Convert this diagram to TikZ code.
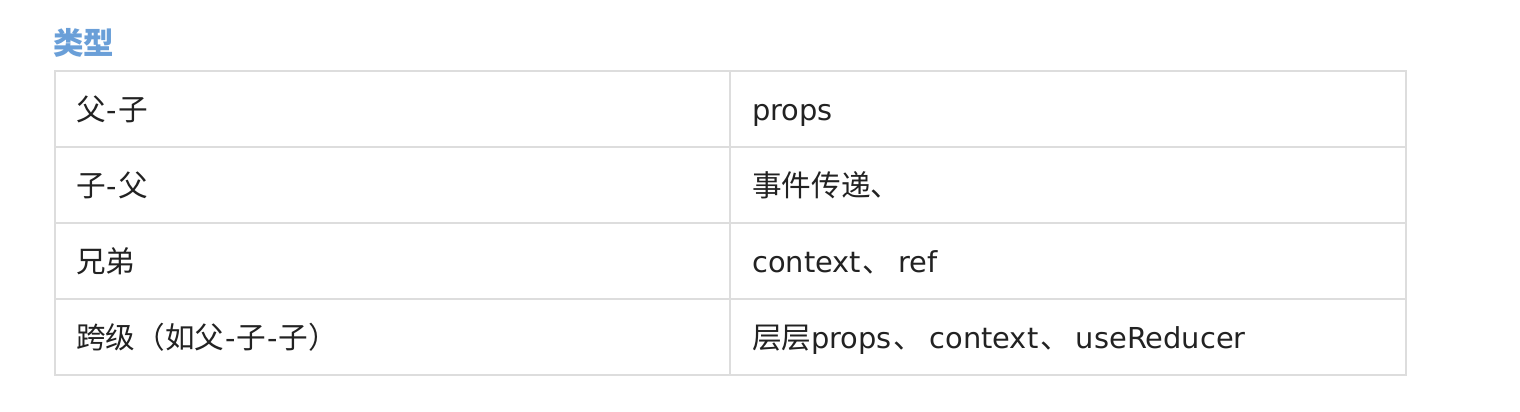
\documentclass[tikz,border=0pt]{standalone}
\usepackage{fontspec}
\setmainfont{Noto Sans CJK SC}
\newfontfamily\latinfont[Scale=0.975]{DejaVu Sans}
\newcommand{\hy}{\makebox[12.5pt]{\latinfont -}}
\newcommand{\dun}{\kern2pt、\kern6pt}
\definecolor{gridgray}{HTML}{DDDDDD}
\definecolor{titleblue}{HTML}{6A9FD8}
\definecolor{txt}{HTML}{222222}
\begin{document}
\begin{tikzpicture}[x=1pt,y=-1pt,
  grid/.style={draw=gridgray,line width=2pt},
  cell/.style={anchor=base west,inner sep=0pt,text=txt,font=\fontsize{29.6}{34}\selectfont},
  ttl/.style={anchor=base west,inner sep=0pt,text=titleblue,font=\fontsize{30.5}{34}\selectfont\bfseries}]
\useasboundingbox (0,0) rectangle (1520,412);
\fill[white] (0,0) rectangle (1520,412);
% grid
\draw[grid] (55,71) rectangle (1406,375);
\draw[grid] (55,147) -- (1406,147);
\draw[grid] (55,223) -- (1406,223);
\draw[grid] (55,299) -- (1406,299);
\draw[grid] (730,71) -- (730,375);
% title
\node[ttl] (title) at (53,55) {类型};
% cells
\node[cell] (a1) at (76,120) {父\hy 子};
\node[cell] (b1) at (752,120) {\latinfont props};
\node[cell] (a2) at (76,196) {子\hy 父};
\node[cell] (b2) at (752,196) {事件传递、};
\node[cell] (a3) at (76,272) {兄弟};
\node[cell] (b3) at (752,272) {{\latinfont context}\dun{\latinfont ref}};
\node[cell] (a4) at (76,348) {跨级（如父\hy 子\hy 子）};
\node[cell] (b4) at (752,348) {层层{\latinfont props}\dun{\latinfont context}\dun{\latinfont useReducer}};
\end{tikzpicture}
\end{document}
